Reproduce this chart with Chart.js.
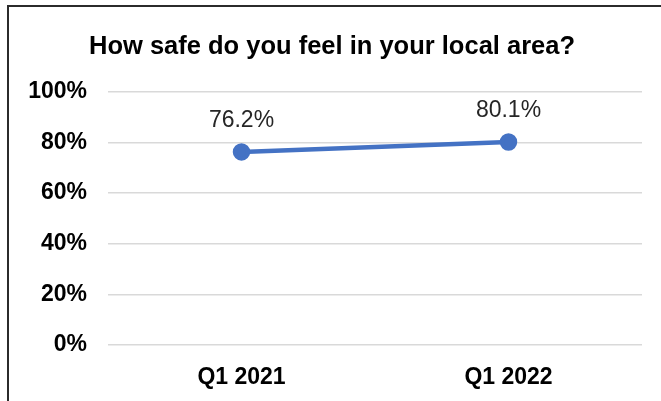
<!DOCTYPE html>
<html>
<head>
<meta charset="utf-8">
<script src="https://cdn.jsdelivr.net/npm/chart.js@4"></script>
<style>
  html, body { margin: 0; padding: 0; background: #fff; }
  #wrap { position: relative; width: 661px; height: 401px; overflow: hidden; }
  #frame { position: absolute; left: 7px; top: 5px; width: 660px; height: 420px; border-left: 2px solid #2b2b2b; border-top: 2px solid #2b2b2b; box-sizing: border-box; pointer-events: none; }
  canvas { position: absolute; left: 0; top: 0; }
</style>
</head>
<body>
<div id="wrap">
  <canvas id="grafico" width="661" height="401"></canvas>
  <div id="frame"></div>
</div>
<script>
const categorias = ['Q1 2021', 'Q1 2022'];
const valores = [76.2, 80.1];
const marcasY = [0, 20, 40, 60, 80, 100];

const fuente = '"Liberation Sans", Arial, sans-serif';

// etiquetas de valor encima de cada punto
const etiquetasValor = {
  id: 'etiquetasValor',
  afterDatasetsDraw(chart) {
    const ctx = chart.ctx;
    const meta = chart.getDatasetMeta(0);
    ctx.save();
    ctx.font = '23px ' + fuente;
    ctx.fillStyle = '#262626';
    ctx.textAlign = 'center';
    ctx.textBaseline = 'middle';
    meta.data.forEach((p, i) => {
      ctx.fillText(valores[i].toFixed(1) + '%', p.x, p.y - 31);
    });
    ctx.restore();
  }
};

new Chart(document.getElementById('grafico'), {
  type: 'line',
  data: {
    labels: categorias,
    datasets: [{
      data: valores,
      borderColor: '#4472C4',
      backgroundColor: '#4472C4',
      borderWidth: 4.5,
      pointRadius: 6.5,
      pointHoverRadius: 6.5,
      tension: 0
    }]
  },
  options: {
    responsive: false,
    animation: false,
    layout: { padding: { left: 22, right: 19, top: 32, bottom: 0 } },
    plugins: {
      legend: { display: false },
      tooltip: { enabled: false },
      title: {
        display: true,
        text: 'How safe do you feel in your local area?',
        color: '#000',
        font: { family: fuente, size: 25.5, weight: 'bold' },
        padding: { top: 0, bottom: 29 }
      }
    },
    scales: {
      x: {
        offset: true,
        grid: { display: false, drawTicks: false },
        border: { display: false },
        ticks: {
          color: '#000',
          padding: 19,
          font: { family: fuente, size: 23, weight: 'bold' }
        },
        afterFit(scale) { scale.height = 56; }
      },
      y: {
        min: 0,
        max: 100,
        afterBuildTicks(scale) { scale.ticks = marcasY.map(v => ({ value: v })); },
        grid: { color: '#d9d9d9', lineWidth: 1.5, drawTicks: false },
        border: { display: false },
        ticks: {
          color: '#000',
          padding: 21,
          font: { family: fuente, size: 23, weight: 'bold' },
          callback: v => v + '%'
        },
        afterFit(scale) { scale.width = 86; }
      }
    }
  },
  plugins: [etiquetasValor]
});
</script>
</body>
</html>
